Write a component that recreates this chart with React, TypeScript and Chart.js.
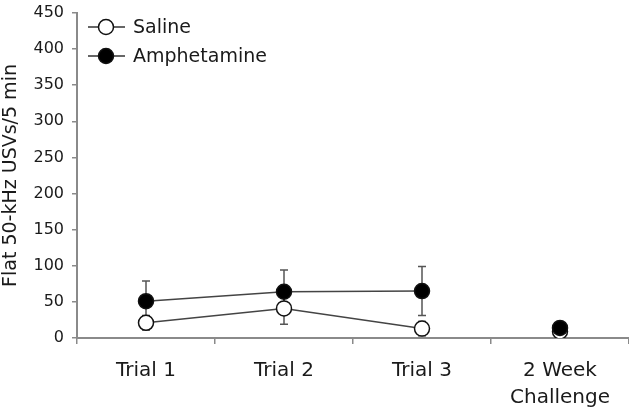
import React, { useEffect, useRef } from "react";
import { Chart, registerables } from "chart.js";

Chart.register(...registerables);

const categories: (string | string[])[] = ["Trial 1", "Trial 2", "Trial 3", ["2 Week", "Challenge"]];
const salineValues = [21, 41, 13, 9];
const salineErrors = [10, 22, 10, 5];
const amphValues = [51, 64, 65, 14];
const amphErrors = [28, 30, 34, 8];
const yTicks = [0, 50, 100, 150, 200, 250, 300, 350, 400, 450];
const yTitle = "Flat 50-kHz USVs/5 min";
const legendLabels = ["Saline", "Amphetamine"];

const FONT = "'DejaVu Sans', Verdana, sans-serif";
const AXIS_GRAY = "#8a8a8a";

const errorBarPlugin = {
  id: "errorBars",
  beforeDatasetsDraw(chart: any) {
    const ctx = chart.ctx;
    const yScale = chart.scales.y;
    const errs = [salineErrors, amphErrors];
    ctx.save();
    ctx.strokeStyle = "#555";
    ctx.lineWidth = 1.5;
    chart.data.datasets.forEach((ds: any, di: number) => {
      const meta = chart.getDatasetMeta(di);
      meta.data.forEach((pt: any, i: number) => {
        const v = ds.data[i];
        const e = errs[di][i];
        const x = pt.x;
        const yTop = yScale.getPixelForValue(v + e);
        const yBot = yScale.getPixelForValue(Math.max(0, v - e));
        ctx.beginPath();
        ctx.moveTo(x, yTop);
        ctx.lineTo(x, yBot);
        ctx.moveTo(x - 4, yTop);
        ctx.lineTo(x + 4, yTop);
        ctx.moveTo(x - 4, yBot);
        ctx.lineTo(x + 4, yBot);
        ctx.stroke();
      });
    });
    ctx.restore();
  },
};

const legendPlugin = {
  id: "customLegend",
  afterDraw(chart: any) {
    const ctx = chart.ctx;
    const items = [
      { label: legendLabels[0], fill: "#fff", y: 27 },
      { label: legendLabels[1], fill: "#000", y: 56 },
    ];
    ctx.save();
    items.forEach((it) => {
      ctx.strokeStyle = "#333";
      ctx.lineWidth = 1.5;
      ctx.beginPath();
      ctx.moveTo(88, it.y);
      ctx.lineTo(125, it.y);
      ctx.stroke();
      ctx.beginPath();
      ctx.arc(106, it.y, 7.5, 0, Math.PI * 2);
      ctx.fillStyle = it.fill;
      ctx.fill();
      ctx.strokeStyle = "#111";
      ctx.stroke();
      ctx.fillStyle = "#1a1a1a";
      ctx.font = `19px ${FONT}`;
      ctx.textBaseline = "middle";
      ctx.textAlign = "left";
      ctx.fillText(it.label, 133, it.y + 1);
    });
    ctx.restore();
  },
};

export default function App() {
  const canvasRef = useRef<HTMLCanvasElement | null>(null);

  useEffect(() => {
    document.body.style.margin = "0";
    const canvas = canvasRef.current;
    if (!canvas) return;
    const segBreak = (ctx: any) => (ctx.p1DataIndex === 3 ? "rgba(0,0,0,0)" : "#444");
    const chart = new Chart(canvas, {
      type: "line",
      data: {
        labels: categories as any,
        datasets: [
          {
            label: legendLabels[0],
            data: salineValues,
            borderColor: "#444",
            borderWidth: 1.5,
            pointBackgroundColor: "#fff",
            pointBorderColor: "#111",
            pointBorderWidth: 1.5,
            pointRadius: 7.5,
            segment: { borderColor: segBreak },
            order: 2,
          },
          {
            label: legendLabels[1],
            data: amphValues,
            borderColor: "#444",
            borderWidth: 1.5,
            pointBackgroundColor: "#000",
            pointBorderColor: "#111",
            pointBorderWidth: 1.5,
            pointRadius: 7.5,
            segment: { borderColor: segBreak },
            order: 1,
          },
        ],
      },
      options: {
        responsive: false,
        animation: false,
        layout: { autoPadding: false, padding: { top: 13, right: -2, left: 0, bottom: 0 } },
        plugins: {
          legend: { display: false },
          tooltip: { enabled: false },
        },
        scales: {
          x: {
            offset: true,
            grid: {
              offset: true,
              drawOnChartArea: false,
              drawTicks: true,
              tickLength: 6,
              color: AXIS_GRAY,
              lineWidth: 1.5,
            },
            border: { color: AXIS_GRAY, width: 2 },
            ticks: {
              color: "#1a1a1a",
              font: { family: FONT, size: 20, lineHeight: 1.35 },
              padding: 13,
              maxRotation: 0,
              autoSkip: false,
            },
            afterFit: (scale: any) => {
              scale.height = 75;
              scale.paddingLeft = 0;
              scale.paddingRight = 0;
            },
          },
          y: {
            min: 0,
            max: 450,
            afterBuildTicks: (scale: any) => {
              scale.ticks = yTicks.map((v) => ({ value: v }));
            },
            grid: {
              drawOnChartArea: false,
              drawTicks: true,
              tickLength: 5,
              color: AXIS_GRAY,
              lineWidth: 1.5,
            },
            border: { color: AXIS_GRAY, width: 2 },
            ticks: {
              color: "#1a1a1a",
              font: { family: FONT, size: 16 },
              padding: 8,
            },
            title: {
              display: true,
              text: yTitle,
              color: "#1a1a1a",
              font: { family: FONT, size: 19 },
              padding: { top: 0, bottom: 0 },
            },
            afterFit: (scale: any) => {
              scale.width = 77;
              scale.paddingTop = 0;
              scale.paddingBottom = 0;
            },
          },
        },
      },
      plugins: [errorBarPlugin, legendPlugin],
    });
    return () => chart.destroy();
  }, []);

  return <canvas ref={canvasRef} width={629} height={413} style={{ display: "block" }} />;
}
